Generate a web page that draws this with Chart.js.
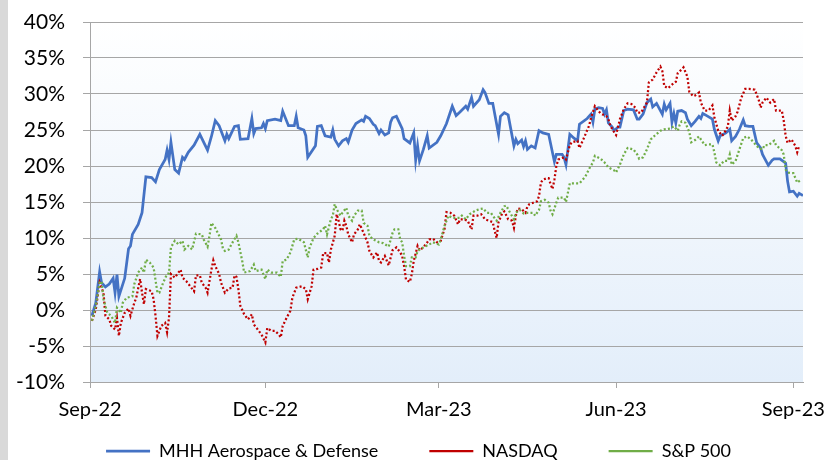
<!DOCTYPE html>
<html>
<head>
<meta charset="utf-8">
<script src="https://cdn.jsdelivr.net/npm/chart.js@4.4.1/dist/chart.umd.min.js"></script>
<style>
  html, body { margin: 0; padding: 0; }
  body { width: 829px; height: 460px; overflow: hidden; background: linear-gradient(to right, #d9d9d9 8px, #ffffff 8px); }
  canvas { display: block; }
</style>
</head>
<body>
<canvas id="chart" width="829" height="460"></canvas>
<script>
// x values are days counted from 1 Sep 2022
const tickDays = [0, 91, 181, 273, 365];
const tickLabels = ['Sep-22', 'Dec-22', 'Mar-23', 'Jun-23', 'Sep-23'];
const seriesNames = ['MHH Aerospace & Defense', 'NASDAQ', 'S&P 500'];

const mhhDays = [1,3,5,6,8,10,12,13,14,15,18,20,21,22,25,27,29,32,34,36,
  39,40,41,42,44,46,48,49,51,54,57,61,63,65,67,70,71,72,75,77,
  78,82,84,85,86,89,90,91,92,96,99,100,103,106,107,108,111,112,113,117,
  118,120,122,125,126,127,129,131,133,134,136,138,141,142,143,145,147,148,150,151,
  153,155,156,157,159,162,163,166,168,169,170,171,173,175,176,180,182,185,188,190,
  192,195,196,198,199,202,204,205,207,209,212,213,215,217,220,221,222,224,225,226,
  227,229,231,233,235,238,241,242,245,246,247,249,251,253,254,258,260,261,262,264,
  266,267,268,269,271,272,274,275,277,279,282,284,285,287,289,291,292,294,296,297,
  298,299,301,302,303,304,305,307,309,310,312,314,316,317,318,320,323,324,326,327,
  330,332,333,335,337,339,340,342,344,346,348,349,352,354,355,358,360,361,362,363,
  365,367,368,370];
const mhhValues = [-0.8,1.0,5.3,3.8,3.2,3.6,4.4,2.4,4.9,1.9,4.4,8.5,8.9,10.5,11.9,13.5,18.5,18.4,17.8,19.5,
  20.9,22.2,20.9,23.3,19.5,19.0,21.2,20.9,21.9,22.9,24.4,22.2,24.1,26.3,25.6,23.5,24.4,23.8,25.5,25.6,
  23.7,23.8,26.6,24.5,25.2,25.3,25.9,25.2,26.3,26.5,26.3,27.6,25.6,25.6,26.9,25.3,25.0,24.2,21.2,22.8,
  25.5,25.6,24.2,24.0,25.0,23.7,22.8,23.5,23.8,23.3,25.0,25.9,26.4,26.2,26.9,26.6,25.8,25.6,24.5,25.0,
  24.3,24.6,26.1,26.7,26.9,25.2,23.8,23.2,24.6,20.8,22.8,20.7,22.3,24.2,22.5,23.3,24.2,25.9,28.3,27.0,
  27.5,28.3,27.9,29.5,28.3,29.2,30.6,30.2,28.7,28.7,24.4,26.9,27.4,27.1,22.8,23.7,23.1,23.6,22.7,23.5,
  22.3,22.8,22.5,24.9,24.6,24.4,20.6,21.6,21.6,21.2,20.2,24.4,23.9,23.5,25.8,26.6,27.2,26.1,27.9,28.1,
  28.0,27.2,27.8,26.0,25.4,24.9,25.4,25.4,27.7,27.9,27.8,26.5,26.5,27.2,28.8,29.3,28.2,28.7,27.7,27.2,
  28.6,27.8,28.7,26.1,27.3,26.0,27.6,27.7,27.4,26.5,25.6,26.2,26.9,26.6,27.3,27.0,26.5,25.1,23.5,24.2,
  24.6,25.1,23.5,24.1,25.1,26.4,25.6,25.5,25.5,23.2,22.5,21.6,20.1,20.8,21.0,21.0,20.6,20.4,17.9,16.4,
  16.5,15.8,16.2,15.9];

const nasdaqDays = [1,3,5,7,8,10,11,13,14,15,16,18,20,21,23,24,26,27,28,29,
  32,33,34,35,37,39,40,41,42,44,47,48,50,52,54,55,57,58,60,61,
  63,64,65,67,68,70,72,74,75,76,77,78,80,82,84,85,87,89,91,92,
  94,96,98,99,100,102,104,105,107,110,112,113,115,116,118,120,121,123,124,125,
  127,128,129,130,131,132,133,134,136,137,139,140,142,144,145,147,149,150,151,153,
  155,157,159,161,162,163,164,166,167,168,170,171,173,175,176,178,180,182,184,185,
  187,189,191,192,194,196,198,199,201,203,205,207,209,210,211,212,214,215,217,219,
  220,221,222,224,226,227,228,230,232,233,234,235,237,238,239,240,241,242,243,246,
  247,249,250,253,254,256,259,260,262,264,265,268,269,270,272,273,275,277,279,281,
  283,284,286,287,289,290,292,294,296,297,298,300,302,304,305,307,308,310,311,313,
  314,316,317,319,321,323,324,326,328,329,331,332,333,335,336,338,340,342,345,347,
  348,349,351,353,355,356,359,360,361,362,364,366,367,368];
const nasdaqValues = [-1.5,0.1,3.8,2.4,-0.8,-1.3,-2.2,-2.7,-1.1,-3.6,-1.8,-0.4,0.2,-0.8,1.0,1.7,4.3,2.4,0.8,2.9,
  2.6,1.5,-0.8,-3.6,-2.2,-1.8,-3.1,-1.1,5.0,4.5,5.6,4.5,4.0,3.3,2.6,4.8,4.8,3.8,3.1,2.4,
  5.6,6.9,6.1,5.0,3.8,2.4,3.0,3.1,4.8,4.6,2.9,0.6,-0.6,-1.3,-0.6,-2.0,-2.7,-3.4,-4.5,-2.5,
  -2.9,-2.9,-3.4,-3.8,-2.2,-1.1,-0.1,1.7,3.1,3.3,2.9,1.5,3.3,5.6,5.7,5.9,7.9,7.9,6.6,8.4,
  10.3,13.3,12.4,11.2,11.0,12.4,11.7,10.5,9.4,10.5,11.2,11.9,10.7,9.4,8.2,7.3,8.0,6.8,6.6,7.5,
  6.2,8.3,8.7,8.0,7.5,6.1,4.2,3.9,5.0,6.8,8.9,8.3,8.7,9.4,9.8,9.9,9.4,9.6,11.3,13.6,
  13.5,13.1,11.9,12.6,12.6,12.4,11.2,13.1,13.1,13.3,12.6,12.4,12.2,11.0,10.0,12.2,13.5,13.7,12.6,12.4,
  11.4,13.1,14.1,14.0,13.5,14.4,14.7,14.9,15.1,15.8,17.7,18.1,18.3,18.3,17.5,16.8,18.1,20.0,20.9,21.2,
  20.9,22.9,23.3,23.5,22.5,23.7,25.6,26.7,28.3,27.6,27.3,26.9,26.5,25.6,24.7,24.3,26.5,27.9,28.7,28.6,
  28.1,27.4,27.4,27.9,28.8,31.6,32.0,33.0,33.8,33.2,31.1,30.8,31.3,31.7,32.9,33.4,33.7,32.4,30.3,29.7,
  29.8,30.2,28.8,27.7,27.7,28.4,26.8,24.9,24.2,24.5,25.5,27.7,26.3,26.9,27.5,29.5,30.7,30.7,30.6,29.2,
  28.1,28.8,29.5,28.8,29.3,27.7,27.7,26.3,24.2,23.2,23.7,22.8,21.9,22.8];

const spDays = [1,3,5,6,7,9,11,13,14,16,17,19,22,23,25,27,28,29,31,33,
  35,36,38,40,41,42,44,46,48,49,51,53,55,58,59,61,62,63,65,68,
  69,70,72,74,76,77,79,80,83,85,86,89,91,92,94,97,99,100,102,104,
  106,108,111,113,114,116,118,121,122,123,125,126,127,128,130,131,133,134,136,137,
  139,141,142,144,145,147,150,152,155,157,158,160,161,162,163,164,166,167,169,170,
  173,176,178,181,182,184,186,188,189,192,193,195,197,200,202,204,206,208,209,211,
  213,215,216,218,220,221,223,225,227,228,230,231,233,234,236,238,239,240,242,243,
  246,247,249,252,254,257,259,261,262,265,267,269,272,273,275,277,279,282,284,285,
  287,289,291,293,296,298,301,303,305,306,307,309,311,312,314,316,317,319,321,323,
  324,325,327,329,331,332,333,335,337,339,341,343,345,347,349,350,352,355,356,359,
  360,361,362,364,365,367,369];
const spValues = [-1.5,0.6,3.8,4.0,1.5,-0.4,-0.8,-1.8,0.3,-0.4,1.0,1.7,1.9,3.6,5.2,5.9,5.2,7.0,6.6,5.9,
  2.4,2.4,3.8,5.0,5.1,8.7,9.6,9.1,9.6,8.4,8.9,8.4,10.6,10.5,9.8,8.8,10.3,12.1,11.4,9.8,
  8.5,8.2,8.4,9.4,10.3,9.4,6.8,5.2,5.4,6.3,5.4,5.6,4.3,5.6,5.2,5.2,4.6,6.8,7.0,8.0,
  9.8,9.9,9.4,7.3,8.7,10.0,10.6,11.2,11.7,10.5,12.6,13.1,14.7,14.0,13.1,13.5,14.2,13.1,12.4,13.1,
  13.8,13.8,12.1,11.7,10.3,9.8,9.4,9.3,8.8,10.7,11.2,11.2,9.8,9.4,7.5,6.1,6.1,7.3,7.3,8.2,
  8.7,9.1,9.4,9.1,9.8,11.7,13.1,12.8,12.8,12.8,13.1,12.6,13.3,13.8,14.0,14.1,13.5,13.5,13.1,12.4,
  13.5,14.4,14.5,13.5,12.6,13.5,13.9,13.4,13.5,13.5,13.5,13.1,13.9,15.1,15.3,14.9,13.8,13.3,14.9,15.6,
  15.6,15.0,17.6,17.6,17.6,18.5,19.6,20.5,21.4,21.0,20.5,19.8,19.4,19.1,20.2,21.6,22.5,22.3,21.6,21.0,
  21.2,22.3,23.7,24.2,24.9,25.1,25.2,25.5,24.9,25.7,26.2,26.0,24.7,23.3,23.6,24.1,23.7,22.9,23.0,23.0,
  21.9,20.5,20.1,20.7,20.7,21.6,20.2,20.7,22.3,23.9,24.1,23.7,23.1,22.5,22.3,22.9,22.9,23.5,22.9,22.2,
  21.6,19.5,19.1,19.0,19.0,17.7,18.1];

function points(days, values) {
  return days.map((d, i) => ({ x: d, y: values[i] }));
}

Chart.defaults.font.family = 'Lato, "Open Sans", sans-serif';
Chart.defaults.color = '#000000';

// light blue gradient behind the plot area
const plotShade = {
  id: 'plotShade',
  beforeDraw(chart) {
    const { ctx, chartArea: a } = chart;
    const g = ctx.createLinearGradient(0, a.top, 0, a.bottom);
    g.addColorStop(0, '#ffffff');
    g.addColorStop(1, '#e3eefa');
    ctx.save();
    ctx.fillStyle = g;
    ctx.fillRect(a.left, a.top, a.right - a.left, a.bottom - a.top);
    ctx.restore();
  }
};

// wider gaps between legend items without a tall legend box
const legendGap = {
  id: 'legendGap',
  afterLayout(chart) {
    const lg = chart.legend;
    const small = lg.options.labels.padding;
    const gap = 51;
    const total = lg.lineWidths[0] - 3 * small + 2 * gap;
    const startX = (chart.width - total) / 2 + 4;
    lg.lineWidths[0] = lg.left + gap + lg.right - 2 * startX;
    lg.options.labels.padding = gap;
    lg.top = chart.height - 18 - gap;
  }
};

new Chart(document.getElementById('chart'), {
  type: 'line',
  data: {
    datasets: [
      { label: seriesNames[0], data: points(mhhDays, mhhValues), borderColor: '#4472C4', borderWidth: 2.75, order: 3 },
      { label: seriesNames[1], data: points(nasdaqDays, nasdaqValues), borderColor: '#C00000', borderWidth: 2.25, borderDash: [2, 2.2], order: 2 },
      { label: seriesNames[2], data: points(spDays, spValues), borderColor: '#70AD47', borderWidth: 2.25, borderDash: [2, 2.2], order: 1 }
    ]
  },
  options: {
    responsive: false,
    animation: false,
    events: [],
    layout: { padding: { left: 0, right: 26, top: 22, bottom: 0 } },
    elements: {
      point: { radius: 0 },
      line: { tension: 0, fill: false }
    },
    scales: {
      x: {
        type: 'linear',
        min: 0,
        max: 370,
        afterBuildTicks: (s) => { s.ticks = tickDays.map(v => ({ value: v })); },
        afterFit: (s) => { s.height = 40; s.paddingLeft = 0; s.paddingRight = 0; },
        ticks: {
          callback: (v, i) => tickLabels[i],
          autoSkip: false,
          maxRotation: 0,
          padding: 10,
          font: { size: 20 },
          color: '#000000'
        },
        grid: { drawOnChartArea: false, tickLength: 6, color: '#a6a6a6' },
        border: { color: '#a6a6a6' }
      },
      y: {
        min: -10,
        max: 40,
        afterFit: (s) => { s.width = 90; s.paddingTop = 0; s.paddingBottom = 0; },
        ticks: {
          stepSize: 5,
          callback: (v) => v + '%',
          padding: 18,
          font: { size: 21 },
          color: '#000000'
        },
        grid: { color: '#a6a6a6', tickLength: 7 },
        border: { color: '#a6a6a6' }
      }
    },
    plugins: {
      tooltip: { enabled: false },
      legend: {
        position: 'bottom',
        labels: {
          usePointStyle: true,
          pointStyle: 'line',
          pointStyleWidth: 44,
          padding: 10,
          font: { size: 18 },
          color: '#000000',
          sort: (a, b) => a.datasetIndex - b.datasetIndex
        }
      }
    }
  },
  plugins: [plotShade, legendGap]
});
</script>
</body>
</html>
